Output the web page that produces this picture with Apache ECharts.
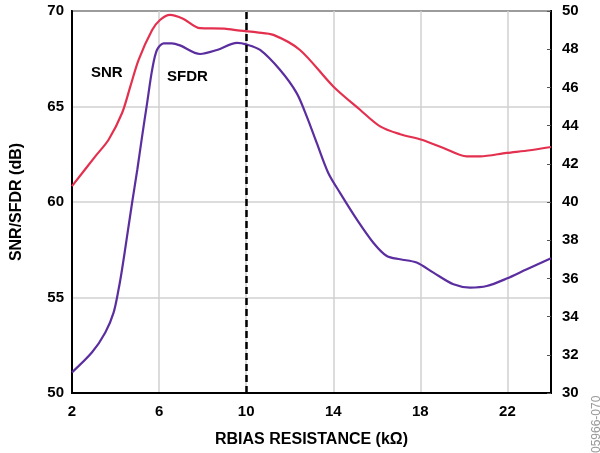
<!DOCTYPE html>
<html><head><meta charset="utf-8">
<script src="https://cdn.jsdelivr.net/npm/echarts@6/dist/echarts.min.js"></script>
<style>html,body{margin:0;padding:0;background:#fff}#c{width:600px;height:453px}</style>
</head><body><div id="c"></div>
<script>
const snrX = [2, 3.07, 3.68, 4.3, 4.68, 5.06, 5.68, 6.04, 6.5, 7.1, 7.88, 9, 9.72, 10.5, 11.25, 12.47, 14.0, 15.23, 16.15, 17.07, 18.06, 19.06, 20.13, 20.74, 21.96, 23.04, 24];
const snrY = [60.83, 62.39, 63.26, 64.66, 66.05, 67.44, 69.0, 69.53, 69.8, 69.6, 69.1, 69.08, 68.97, 68.88, 68.75, 67.96, 66.05, 64.83, 63.96, 63.55, 63.26, 62.83, 62.39, 62.39, 62.57, 62.71, 62.88];
const sfdrX = [2, 2.92, 3.53, 3.91, 4.14, 4.3, 4.53, 4.76, 5.0, 5.22, 5.45, 5.68, 5.9, 6.21, 6.59, 6.96, 7.88, 8.66, 9.58, 10.0, 10.64, 11.55, 12.32, 12.78, 13.24, 13.77, 14.31, 15.08, 15.84, 16.46, 17.07, 17.83, 18.6, 19.52, 20.28, 21.05, 21.96, 22.89, 24];
const sfdrY = [51.08, 52.13, 53.17, 54.21, 55.43, 56.48, 58.21, 59.96, 61.7, 63.44, 65.18, 66.92, 67.96, 68.31, 68.31, 68.2, 67.75, 67.96, 68.33, 68.25, 67.96, 66.92, 65.7, 64.48, 63.09, 61.52, 60.48, 59.09, 57.87, 57.17, 57.0, 56.83, 56.3, 55.69, 55.52, 55.6, 55.99, 56.48, 57.05];
const xTicks = [2, 6, 10, 14, 18, 22];
const markerX = 10;
const FF = 'Liberation Sans, Arial, sans-serif';
const tickFont = {fontFamily: FF, fontWeight: 'bold', fontSize: 15, color: '#000'};
const titleFont = {fontFamily: FF, fontWeight: 'bold', fontSize: 16, color: '#000'};
const chart = echarts.init(document.getElementById('c'));
chart.setOption({
  animation: false,
  grid: {left: 72, right: 49, top: 11, bottom: 59, show: true, borderColor: '#000', borderWidth: 2},
  xAxis: {
    type: 'value', min: 2, max: 24, interval: 4,
    name: 'RBIAS RESISTANCE (kΩ)', nameLocation: 'middle', nameGap: 39,
    nameTextStyle: Object.assign({}, titleFont),
    axisLine: {show: true, lineStyle: {color: '#000', width: 2}},
    axisTick: {show: false},
    axisLabel: Object.assign({margin: 11, formatter: v => xTicks.includes(v) ? String(v) : ''}, tickFont),
    splitLine: {show: true, lineStyle: {color: '#d0d0d0', width: 1.5}}
  },
  yAxis: [{
    type: 'value', min: 50, max: 70, interval: 5, position: 'left',
    name: 'SNR/SFDR (dB)', nameLocation: 'middle', nameGap: 47,
    nameTextStyle: Object.assign({}, titleFont),
    axisLine: {show: true, lineStyle: {color: '#000', width: 2}},
    axisTick: {show: false},
    axisLabel: Object.assign({margin: 8}, tickFont),
    splitLine: {show: true, lineStyle: {color: '#d0d0d0', width: 1.5}}
  }, {
    type: 'value', min: 30, max: 50, interval: 2, position: 'right',
    axisLine: {show: true, lineStyle: {color: '#000', width: 2}},
    axisTick: {show: true, inside: true, length: 4, lineStyle: {color: '#555', width: 1}},
    axisLabel: Object.assign({margin: 11}, tickFont),
    splitLine: {show: false}
  }],
  graphic: [
    {type: 'text', left: 91, top: 65, style: {text: 'SNR', font: 'bold 15px ' + FF, fill: '#000'}},
    {type: 'text', left: 167, top: 69, style: {text: 'SFDR', font: 'bold 15px ' + FF, fill: '#000'}},
    {type: 'text', x: 591, y: 453, rotation: Math.PI / 2, style: {text: '05966-070', font: '12px ' + FF, fill: '#999'}}
  ],
  series: [{
    name: 'SNR', type: 'line', smooth: 0.3, showSymbol: false,
    data: snrX.map((x, i) => [x, snrY[i]]),
    lineStyle: {color: '#e4304f', width: 2.2}, itemStyle: {color: '#e4304f'}, z: 3
  }, {
    name: 'SFDR', type: 'line', smooth: 0.3, showSymbol: false,
    data: sfdrX.map((x, i) => [x, sfdrY[i]]),
    lineStyle: {color: '#5b2ea0', width: 2.2}, itemStyle: {color: '#5b2ea0'}, z: 3,
    markLine: {silent: true, symbol: 'none', label: {show: false},
      lineStyle: {color: '#000', type: [7, 4], width: 2.5},
      data: [{xAxis: markerX}]}
  }]
});
</script></body></html>
